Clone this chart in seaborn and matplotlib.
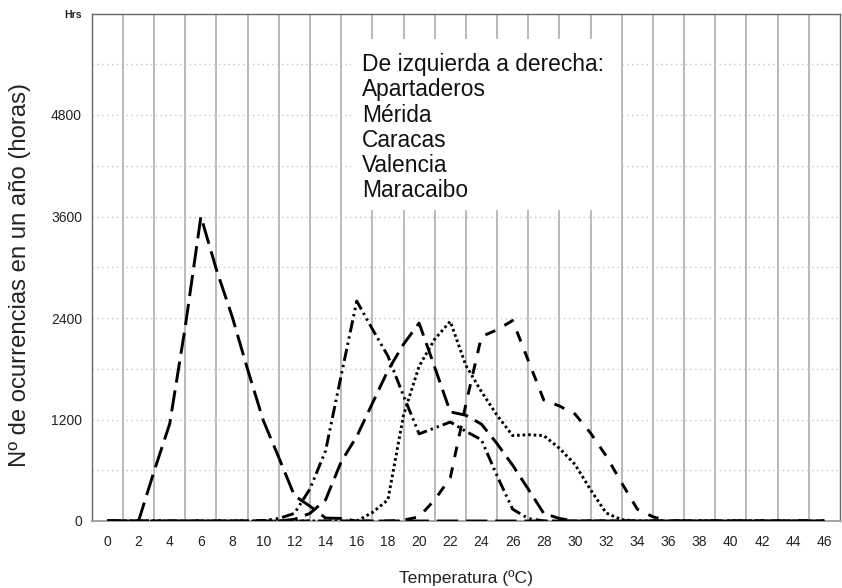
import matplotlib
matplotlib.use("Agg")
import matplotlib.pyplot as plt
from matplotlib.patches import Rectangle
import pandas as pd
import seaborn as sns

# Hours per year spent at each temperature (ºC), five Venezuelan stations
temperaturas = list(range(0, 47))

apartaderos = [0, 0, 0, 590, 1150, 2300, 3600, 2970, 2420, 1790, 1190, 750, 300, 175, 35, 30,
               0, 0, 0, 0, 0, 0, 0, 0, 0, 0, 0, 0, 0, 0, 0, 0, 0, 0, 0, 0, 0, 0, 0, 0, 0, 0,
               0, 0, 0, 0, 0]
merida = [0, 0, 0, 0, 0, 0, 0, 0, 0, 0, 5, 30, 90, 380, 830, 1720, 2600, 2270, 1950, 1480,
          1030, 1100, 1170, 1060, 960, 535, 140, 30, 0, 0, 0, 0, 0, 0, 0, 0, 0, 0, 0, 0, 0,
          0, 0, 0, 0, 0, 0]
caracas = [0, 0, 0, 0, 0, 0, 0, 0, 0, 0, 0, 0, 20, 90, 250, 700, 1000, 1390, 1780, 2090,
           2340, 1820, 1290, 1250, 1145, 915, 660, 378, 90, 30, 0, 0, 0, 0, 0, 0, 0, 0, 0, 0,
           0, 0, 0, 0, 0, 0, 0]
valencia = [0, 0, 0, 0, 0, 0, 0, 0, 0, 0, 0, 0, 0, 0, 0, 0, 0, 100, 250, 1250, 1830, 2150,
            2360, 1840, 1530, 1250, 1010, 1020, 1010, 860, 670, 370, 95, 15, 0, 0, 0, 0, 0,
            0, 0, 0, 0, 0, 0, 0, 0]
maracaibo = [0, 0, 0, 0, 0, 0, 0, 0, 0, 0, 0, 0, 0, 0, 0, 0, 0, 0, 0, 10, 50, 250, 510, 1380,
             2180, 2260, 2370, 1900, 1430, 1360, 1265, 1040, 770, 450, 140, 50, 0, 0, 0, 0, 0,
             0, 0, 0, 0, 0, 0]

ciudades = ["Apartaderos", "Mérida", "Caracas", "Valencia", "Maracaibo"]
valores = [apartaderos, merida, caracas, valencia, maracaibo]

x_ticks = list(range(0, 47, 2))
y_ticks = [0, 1200, 2400, 3600, 4800, 6000]
y_tick_labels = ["0", "1200", "2400", "3600", "4800", "Hrs"]

df = pd.DataFrame(
    [(c, t, v) for c, serie in zip(ciudades, valores) for t, v in zip(temperaturas, serie)],
    columns=["ciudad", "temperatura", "horas"],
)

sns.set_theme(style="white")
plt.rcParams["font.family"] = ["Liberation Sans", "DejaVu Sans"]

fig = plt.figure(figsize=(8.42, 5.88), dpi=100)
ax = fig.add_axes([91.8 / 842, 67 / 588, 748.1 / 842, 507.5 / 588])

dashes = {
    "Apartaderos": (7.3, 2.7),
    "Mérida": (4.2, 1.4, 0.8, 1.4, 0.8, 1.4),
    "Caracas": (5.8, 2.7),
    "Valencia": (0.9, 1.0),
    "Maracaibo": (3.7, 3.6),
}
sns.lineplot(
    data=df, x="temperatura", y="horas", hue="ciudad", style="ciudad",
    palette={c: "black" for c in ciudades}, dashes=dashes, linewidth=2.1,
    legend=False, ax=ax, zorder=3,
)

ax.set_xlim(-1, 47)
ax.set_ylim(0, 6000)

# vertical grid between the labelled ticks, dotted horizontal grid every 600 h
for t in range(1, 47, 2):
    ax.axvline(t, color="#b4b4b4", lw=1.3, zorder=1)
for h in range(600, 6000, 600):
    ax.axhline(h, color="#c4c4c4", lw=1.0, ls=(0, (1, 2.5)), zorder=1)

ax.set_xticks(x_ticks)
ax.set_xticklabels([str(t) for t in x_ticks], fontsize=10, color="#222222")
ax.set_yticks(range(0, 6001, 600), minor=False)
ax.set_yticklabels(
    [y_tick_labels[y_ticks.index(v)] if v in y_ticks else "" for v in range(0, 6001, 600)],
    fontsize=10, color="#222222",
)
for lbl in ax.get_yticklabels():
    if lbl.get_text() == "Hrs":
        lbl.set_fontsize(7.5)
        lbl.set_fontweight("bold")
ax.tick_params(axis="y", direction="out", length=3, width=0.8, color="#555555", pad=4)
ax.tick_params(axis="x", direction="out", length=3, width=0.8, color="#555555", pad=7)

for side in ["left", "top", "right"]:
    ax.spines[side].set_color("#666666")
    ax.spines[side].set_linewidth(1.0)
ax.spines["bottom"].set_color("#999999")

ax.set_xlabel("Temperatura (ºC)", fontsize=12.6, color="#222222", labelpad=15)
ax.set_ylabel("Nº de ocurrencias en un año (horas)", fontsize=17.2, color="#222222")
ax.yaxis.set_label_coords(-0.081, 0.485)

# white panel holding the reading-order note
ax.add_patch(Rectangle((15.6, 3680), 17.35, 2020, facecolor="white", edgecolor="none", zorder=2))
ax.text(
    16.33, 5530,
    "De izquierda a derecha:\nApartaderos\nMérida\nCaracas\nValencia\nMaracaibo",
    fontsize=16.4, color="#111111", va="top", ha="left", linespacing=1.12, zorder=4,
)

fig.savefig("out.png", dpi=100)
